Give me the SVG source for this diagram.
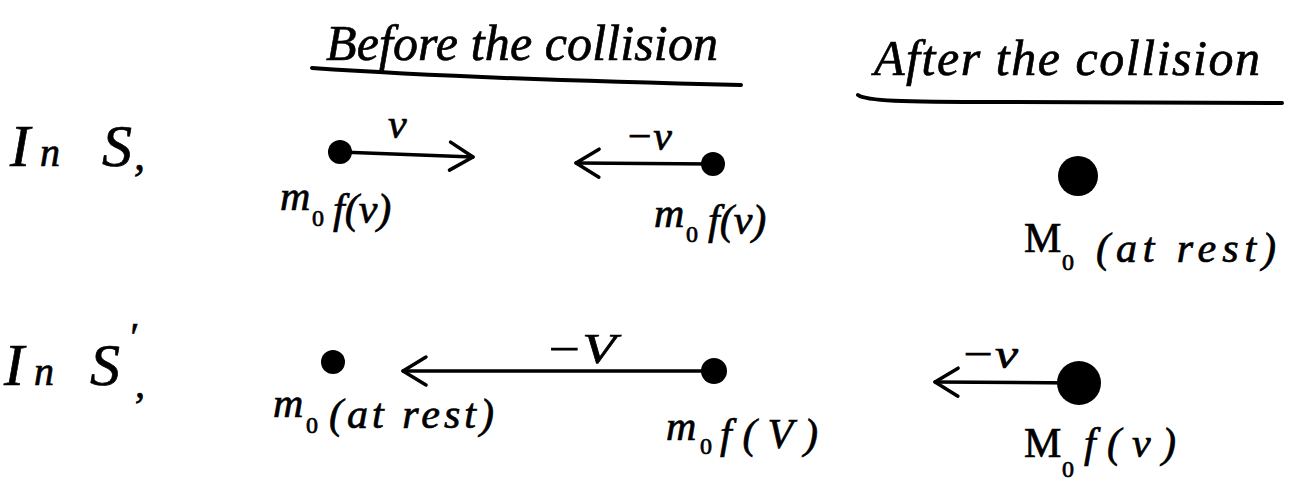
<svg xmlns="http://www.w3.org/2000/svg" width="1292" height="481" viewBox="0 0 1292 481">
<defs>
<style>
text{font-family:"Liberation Serif","DejaVu Serif",serif;font-style:italic;fill:#000;stroke:#000;stroke-width:0.7;}
.big{font-size:60px;}
.lab{font-size:42px;}
.sub{font-size:24px;font-style:normal;}
.ttl{font-size:50px;}
.rule{fill:none;stroke:#000;stroke-width:4;stroke-linecap:round;}
.ball{fill:#000;}
.arr{fill:none;stroke:#000;stroke-width:3.5;stroke-linecap:round;marker-end:url(#head);}
</style>
<marker id="head" markerUnits="userSpaceOnUse" markerWidth="34" markerHeight="40" viewBox="-28 -20 34 40" refX="0" refY="0" orient="auto" overflow="visible">
<path d="M-23,-14 L0,0 L-23,14" fill="none" stroke="#000" stroke-width="3.5" stroke-linecap="round" stroke-linejoin="round"/>
</marker>
</defs>
<rect width="1292" height="481" fill="#fff"/>

<g id="heading-before">
<text class="ttl" x="326" y="60" textLength="392" lengthAdjust="spacing">Before the collision</text>
<path class="rule" d="M312,68 C400,74 520,80 741,85"/>
</g>
<g id="heading-after">
<text class="ttl" x="874" y="75" textLength="386" lengthAdjust="spacing" font-size="54">After the collision</text>
<path class="rule" d="M858,95 C866,101 900,102 1000,102 L1282,103"/>
</g>

<g id="row-label-S">
<text class="big" y="166"><tspan x="10">I</tspan><tspan x="40" font-size="40">n</tspan><tspan x="102">S</tspan><tspan x="134" y="170" font-size="44">,</tspan></text>
</g>
<g id="row-label-Sprime">
<text class="big" y="385"><tspan x="4">I</tspan><tspan x="34" font-size="40">n</tspan><tspan x="90">S</tspan><tspan x="128" y="350" font-size="40">′</tspan><tspan x="135" y="397" font-size="40">,</tspan></text>
</g>

<g id="S-ball-left">
<circle class="ball" cx="340" cy="152" r="12"/>
<text class="lab" x="388" y="138" font-size="40">v</text>
<text class="lab" y="210"><tspan x="280">m</tspan><tspan class="sub" x="312" y="226">0</tspan><tspan x="333" y="223">f(v)</tspan></text>
</g>
<g id="S-ball-right">
<circle class="ball" cx="713" cy="164" r="12"/>
<text class="lab" x="625" y="150" font-size="38">−v</text>
<text class="lab" y="227"><tspan x="654">m</tspan><tspan class="sub" x="686" y="242">0</tspan><tspan x="708" y="234">f(v)</tspan></text>
</g>
<g id="S-after">
<circle class="ball" cx="1078" cy="176" r="20"/>
<text class="lab" y="252" font-size="46"><tspan x="1024" font-style="normal">M</tspan><tspan class="sub" x="1062" y="270" font-size="26">0</tspan><tspan x="1096" y="262" textLength="180" lengthAdjust="spacing">(at rest)</tspan></text>
</g>

<g id="Sp-ball-left">
<circle class="ball" cx="333" cy="362" r="12"/>
<text class="lab" y="417"><tspan x="273">m</tspan><tspan class="sub" x="306" y="433">0</tspan><tspan x="329" y="428" textLength="165" lengthAdjust="spacing">(at rest)</tspan></text>
</g>
<g id="Sp-ball-right">
<circle class="ball" cx="714" cy="371" r="13"/>
<text class="lab" x="545" y="363" font-size="46" textLength="71" lengthAdjust="spacingAndGlyphs">−V</text>
<text class="lab" y="440"><tspan x="666">m</tspan><tspan class="sub" x="700" y="454">0</tspan><tspan x="720" y="448" textLength="98" lengthAdjust="spacing">f(V)</tspan></text>
</g>
<g id="Sp-after">
<circle class="ball" cx="1079" cy="383" r="22"/>
<text class="lab" x="960" y="368" font-size="36" textLength="58" lengthAdjust="spacingAndGlyphs">−v</text>
<text class="lab" y="457" font-size="46"><tspan x="1024" font-style="normal">M</tspan><tspan class="sub" x="1062" y="477" font-size="26">0</tspan><tspan x="1084" y="457" textLength="92" lengthAdjust="spacing">f(v)</tspan></text>
</g>

<g id="connectors">
<path class="arr" d="M340,152 L473,157"/>
<path class="arr" d="M713,164 L576,163"/>
<path class="arr" d="M714,371 L403,371"/>
<path class="arr" d="M1079,383 L935,382"/>
</g>
</svg>
